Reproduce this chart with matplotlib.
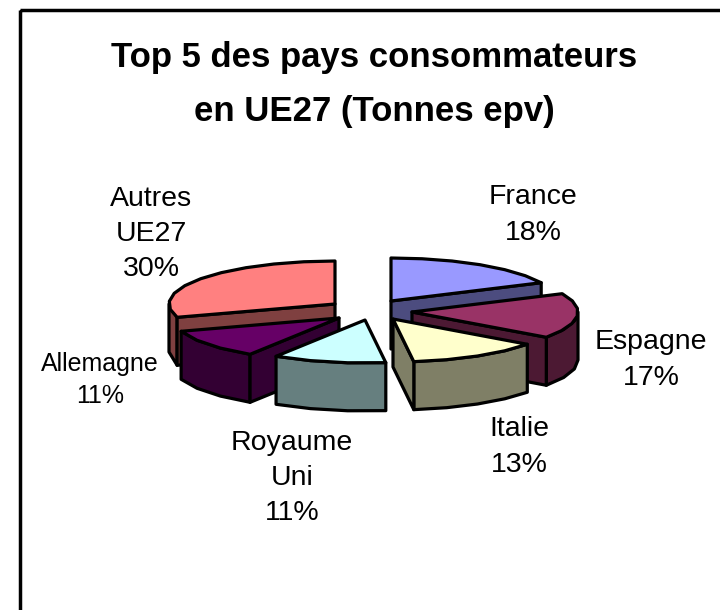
"""Exploded 3D-look pie: top 5 consumer countries in the EU27."""
import matplotlib
matplotlib.use('Agg')
import matplotlib.pyplot as plt
import numpy as np
from matplotlib.patches import Polygon, Rectangle

plt.rcParams['font.family'] = ['Liberation Sans', 'DejaVu Sans']

# Data
countries = ['France', 'Espagne', 'Italie', 'Royaume\nUni', 'Allemagne', 'Autres\nUE27']
shares = [18, 17, 13, 11, 11, 30]

# Styles
top_colors = ['#9999ff', '#993366', '#ffffcc', '#ccffff', '#660066', '#ff8080']
side_colors = ['#4c4c7f', '#4c1933', '#7f7f66', '#667f7f', '#330033', '#7f4040']

# Pie geometry in pixels
RX, RY, DEPTH = 166, 43, 48
CX, CY = 364, 311
APEX_OFFSETS = [(27, -10), (48, 1), (29, 8), (1, 9), (-25, 7), (-29, -7)]
LABEL_POS = [(533, 215), (651, 360), (519, 447), (292, 478), (100, 380), (151, 234)]
LABEL_SIZE = [20.5, 20.5, 20.5, 20.5, 18, 20.5]
LW = 2.3


def rim(cx, cy, a, b, step=10.0):
    n = max(int(abs(b - a) / step), 1)
    th = np.radians(np.linspace(a, b, n + 1))
    return np.column_stack([cx + RX * np.sin(th), cy - RY * np.cos(th)])


def draw_wedge(ax, i, a, b):
    cx = CX + APEX_OFFSETS[i][0]
    cy = CY + APEX_OFFSETS[i][1]
    apex = np.array([cx, cy])
    down = np.array([0, DEPTH])
    style = dict(edgecolor='k', linewidth=LW, joinstyle='round')

    # Outer wall, only the part facing the viewer
    lo, hi = max(a, 90), min(b, 270)
    if hi > lo:
        arc = rim(cx, cy, lo, hi)
        ax.add_patch(Polygon(np.vstack([arc, arc[::-1] + down]), closed=True,
                             facecolor=side_colors[i], **style))

    # Cut faces
    for ang, visible in ((a, np.sin(np.radians(a)) < -1e-6),
                         (b, np.sin(np.radians(b)) > 1e-6)):
        if visible:
            edge = rim(cx, cy, ang, ang)[0]
            ax.add_patch(Polygon([apex, edge, edge + down, apex + down], closed=True,
                                 facecolor=side_colors[i], **style))

    # Top
    ax.add_patch(Polygon(np.vstack([apex, rim(cx, cy, a, b)]), closed=True,
                         facecolor=top_colors[i], **style))


def main():
    fig = plt.figure(figsize=(7.2, 6.1), dpi=100)
    ax = fig.add_axes([0, 0, 1, 1])
    ax.set_xlim(0, 720)
    ax.set_ylim(610, 0)
    ax.axis('off')

    ax.add_patch(Rectangle((20, 10), 800, 800, fill=False, edgecolor='k', linewidth=2.5))

    ax.text(374, 58, 'Top 5 des pays consommateurs', ha='center', va='center',
            fontsize=25, fontweight='bold')
    ax.text(374, 111, 'en UE27 (Tonnes epv)', ha='center', va='center',
            fontsize=25, fontweight='bold')

    # Angles run clockwise from 12 o'clock
    edges = np.concatenate([[0], np.cumsum(shares)]) / np.sum(shares) * 360
    mids = (edges[:-1] + edges[1:]) / 2
    order = np.argsort(-np.cos(np.radians(mids)))
    for i in order:
        draw_wedge(ax, i, edges[i], edges[i + 1])

    for name, val, pos, size in zip(countries, shares, LABEL_POS, LABEL_SIZE):
        ax.text(pos[0], pos[1], f'{name}\n{val}%', ha='center', va='center',
                fontsize=size, linespacing=1.47)

    fig.savefig('out.png', dpi=100)
    plt.close()


if __name__ == '__main__':
    main()
